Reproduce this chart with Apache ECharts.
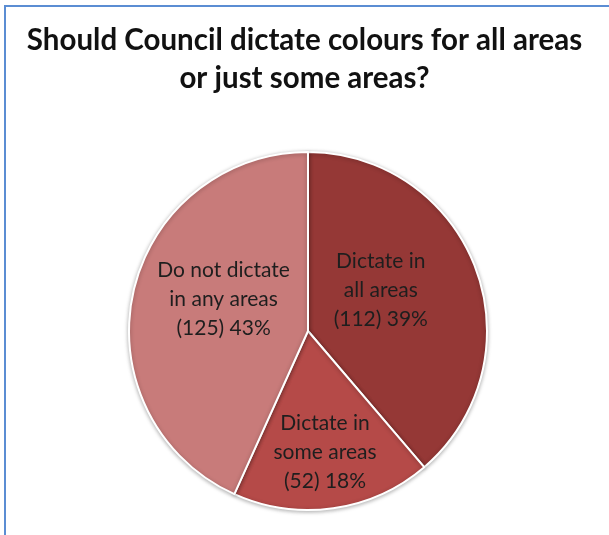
<!DOCTYPE html>
<html>
<head>
<meta charset="utf-8">
<script src="https://cdn.jsdelivr.net/npm/echarts@6/dist/echarts.min.js"></script>
<style>
  html, body { margin: 0; padding: 0; background: #fff; }
  #frame { position: absolute; left: 4px; top: 5px; width: 605px; height: 530px;
           border-top: 2px solid #5b8dd3; border-left: 2px solid #5b8dd3; }
  #chart { position: absolute; left: 0; top: 0; width: 609px; height: 535px; }
</style>
</head>
<body>
<div id="frame"></div>
<div id="chart"></div>
<script>
var titleText = 'Should Council dictate colours for all areas\nor just some areas?';
var categories = ['Dictate in\nall areas', 'Dictate in\nsome areas', 'Do not dictate\nin any areas'];
var counts = [112, 52, 125];
var percents = ['39%', '18%', '43%'];
var colours = ['#953836', '#b54a48', '#c87b7a'];
// nudges so labels sit where Excel put them
var labelOffsets = [[-14, -9], [4, 30], [6, -12]];

var pieData = categories.map(function (name, i) {
    return {
        name: name,
        value: counts[i],
        itemStyle: { color: colours[i] },
        label: { offset: labelOffsets[i] }
    };
});

echarts.init(document.getElementById('chart')).setOption({
    animation: false,
    title: {
        text: titleText,
        left: 'center',
        top: 16,
        textStyle: {
            fontFamily: 'Lato',
            fontWeight: 'bold',
            fontSize: 29.5,
            lineHeight: 38,
            color: '#111'
        }
    },
    series: [
        {
            type: 'pie',
            center: [308, 331],
            radius: 179,
            startAngle: 90,
            clockwise: true,
            data: pieData,
            itemStyle: {
                borderColor: '#fff',
                borderWidth: 2,
                shadowBlur: 4,
                shadowColor: 'rgba(0,0,0,0.3)',
                shadowOffsetY: 1
            },
            label: {
                position: 'inside',
                fontFamily: 'Lato',
                fontSize: 21,
                lineHeight: 29,
                color: '#1e1e1e',
                align: 'center',
                formatter: function (p) {
                    return p.name + '\n(' + p.value + ') ' + percents[p.dataIndex];
                }
            },
            labelLine: { show: false },
            emphasis: { disabled: true }
        }
    ]
});
</script>
</body>
</html>
